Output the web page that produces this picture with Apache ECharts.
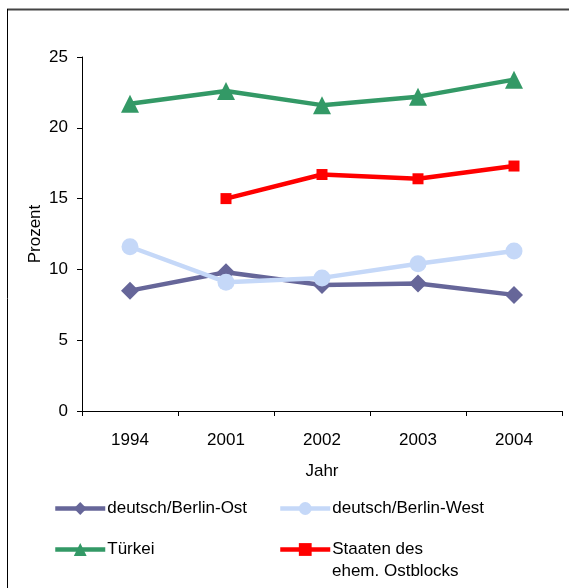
<!DOCTYPE html>
<html>
<head>
<meta charset="utf-8">
<script src="https://cdn.jsdelivr.net/npm/echarts@6/dist/echarts.min.js"></script>
<style>html,body{margin:0;padding:0;background:#fff;}#c{width:569px;height:588px;}</style>
</head>
<body>
<div id="c"></div>
<script>
const years = ['1994', '2001', '2002', '2003', '2004'];
const ost = [8.5, 9.8, 8.9, 9.0, 8.2];
const west = [11.6, 9.1, 9.4, 10.4, 11.3];
const tuerkei = [21.7, 22.6, 21.6, 22.2, 23.4];
const staaten = [null, 15.0, 16.7, 16.4, 17.3];
const yTicks = { min: 0, max: 25, interval: 5 };

const FONT = '"Liberation Sans", Arial, sans-serif';
const chart = echarts.init(document.getElementById('c'), null, { renderer: 'canvas' });

function legendAt(name, left, top) {
  return {
    data: [name], left: left, top: top, padding: 0,
    itemWidth: 50, itemHeight: 16, itemGap: 0,
    lineStyle: { width: 4.5 },
    formatter: n => n === 'Staaten des ehem. Ostblocks' ? 'Staaten des' : n,
    textStyle: { fontFamily: FONT, fontSize: 17, color: '#000', padding: [0, 0, 0, -3] }
  };
}

chart.setOption({
  animation: false,
  backgroundColor: '#fff',
  textStyle: { fontFamily: FONT },
  grid: { left: 82, right: 7, top: 57, bottom: 177, containLabel: false },
  xAxis: {
    type: 'category', data: years, boundaryGap: true,
    name: 'Jahr', nameLocation: 'middle', nameGap: 52, nameMoveOverlap: false,
    nameTextStyle: { fontFamily: FONT, fontSize: 17, color: '#000' },
    axisLine: { lineStyle: { color: '#000', width: 1 } },
    axisTick: { show: true, length: 5, lineStyle: { color: '#000' } },
    axisLabel: { fontFamily: FONT, fontSize: 17, color: '#000', margin: 21 },
    splitLine: { show: false }
  },
  yAxis: {
    type: 'value', min: yTicks.min, max: yTicks.max, interval: yTicks.interval,
    name: 'Prozent', nameLocation: 'middle', nameGap: 38, nameRotate: 90, nameMoveOverlap: false,
    nameTextStyle: { fontFamily: FONT, fontSize: 17, color: '#000' },
    axisLine: { show: true, lineStyle: { color: '#000', width: 1 } },
    axisTick: { show: true, length: 5, lineStyle: { color: '#000' } },
    axisLabel: { fontFamily: FONT, fontSize: 17, color: '#000', margin: 14 },
    splitLine: { show: false }
  },
  legend: [
    legendAt('deutsch/Berlin-Ost', 53, 500),
    legendAt('deutsch/Berlin-West', 278, 500),
    legendAt('Türkei', 53, 541),
    legendAt('Staaten des ehem. Ostblocks', 278, 541)
  ],
  graphic: [
    { type: 'line', shape: { x1: 7, y1: 9.5, x2: 569, y2: 9.5 }, style: { stroke: '#444', lineWidth: 2 } },
    { type: 'line', shape: { x1: 7.5, y1: 9, x2: 7.5, y2: 588 }, style: { stroke: '#000', lineWidth: 1 } },
    { type: 'text', left: 332, top: 563, style: { text: 'ehem. Ostblocks', font: '17px "Liberation Sans", Arial, sans-serif', fill: '#000' } }
  ],
  series: [
    { name: 'deutsch/Berlin-Ost', type: 'line', data: ost, symbol: 'diamond', symbolSize: 18,
      lineStyle: { color: '#666699', width: 4.5 }, itemStyle: { color: '#666699' } },
    { name: 'deutsch/Berlin-West', type: 'line', data: west, symbol: 'circle', symbolSize: 17,
      lineStyle: { color: '#C5D8F8', width: 4.5 }, itemStyle: { color: '#C5D8F8' } },
    { name: 'Türkei', type: 'line', data: tuerkei, symbol: 'triangle', symbolSize: 18,
      lineStyle: { color: '#339966', width: 4.5 }, itemStyle: { color: '#339966' } },
    { name: 'Staaten des ehem. Ostblocks', type: 'line', data: staaten, symbol: 'rect', symbolSize: 11,
      lineStyle: { color: '#FF0000', width: 4.5 }, itemStyle: { color: '#FF0000' } }
  ]
});
</script>
</body>
</html>
